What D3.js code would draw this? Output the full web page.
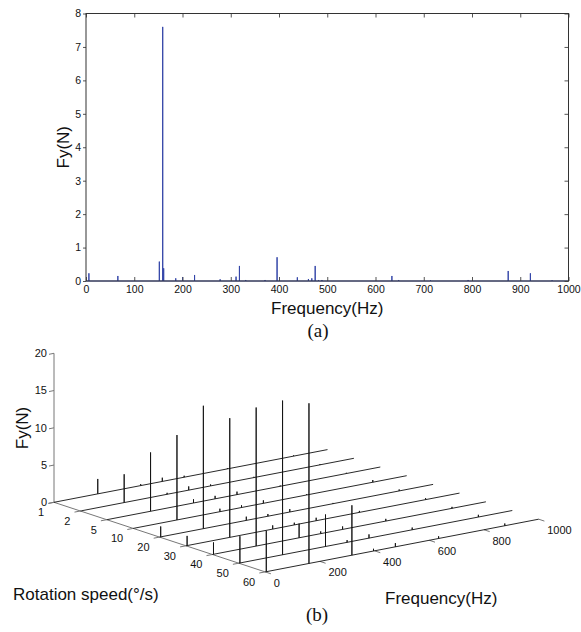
<!DOCTYPE html>
<html>
<head>
<meta charset="utf-8">
<script src="https://cdn.jsdelivr.net/npm/d3@7"></script>
<style>
  body { margin: 0; background: #fff; }
  svg { display: block; }
  text { font-family: "Liberation Sans", Arial, sans-serif; fill: #111; }
  text.cap { font-family: "Liberation Serif", "Times New Roman", serif; }
</style>
</head>
<body>
<div class="chart"></div>
<script>
// panel (a) spectrum, peaks
var specFreq = [6, 66, 152, 159, 161, 186, 200, 225, 278, 311, 318, 331, 371, 396, 438, 461, 468, 475, 482, 489, 634, 648, 714, 792, 875, 921, 966];
var specFy   = [0.23, 0.15, 0.58, 7.6, 0.38, 0.08, 0.12, 0.18, 0.05, 0.13, 0.45, 0.03, 0.03, 0.71, 0.11, 0.06, 0.08, 0.45, 0.03, 0.03, 0.15, 0.03, 0.02, 0.03, 0.30, 0.23, 0.02];
var freqTicksA = [0, 100, 200, 300, 400, 500, 600, 700, 800, 900, 1000];
var fyTicksA = [0, 1, 2, 3, 4, 5, 6, 7, 8];

// panel (b) waterfall: one row per rotation speed, one column per peak frequency
var speeds = ["1", "2", "5", "10", "20", "30", "40", "50", "60"];
var peakFreqs = [4, 160, 317, 396, 476, 634, 876];
var waterfallFy = [
  [0.0, 2.0, 0.2, 0.5, 0.2, 0.1, 0.1],
  [0.0, 3.8, 0.2, 0.5, 0.2, 0.1, 0.1],
  [0.0, 7.9, 0.5, 0.4, 0.4, 0.1, 0.1],
  [0.0, 11.4, 0.4, 0.3, 0.4, 0.1, 0.3],
  [1.4, 16.5, 0.5, 0.3, 0.4, 0.1, 0.2],
  [1.3, 16.0, 0.5, 0.3, 0.4, 0.2, 0.2],
  [1.6, 18.6, 1.9, 0.3, 0.4, 0.3, 0.2],
  [3.6, 20.7, 4.3, 0.3, 0.5, 0.3, 0.3],
  [5.5, 21.5, 6.7, 0.3, 0.5, 0.3, 0.3]
];
var freqTicksB = [0, 200, 400, 600, 800, 1000];
var fyTicksB = [0, 5, 10, 15, 20];

var width = 581;
var height = 632;
var fontSans = "'Liberation Sans', Arial, sans-serif";

const svg = d3.select(".chart")
              .append("svg")
              .attr("width", width)
              .attr("height", height);

// ---------- (a) ----------
var xA = d3.scaleLinear().domain([0, 1000]).range([86, 568.5]);
var yA = d3.scaleLinear().domain([0, 8]).range([281, 13.5]);

const gA = svg.append("g");

// spikes as one path along the baseline
var ptsA = [[0, 0]];
specFreq.forEach((f, i) => {
  ptsA.push([f, 0], [f, specFy[i]], [f, 0]);
});
ptsA.push([1000, 0]);

gA.append("path")
  .datum(ptsA)
  .attr("fill", "none")
  .attr("stroke", "#3345a8")
  .attr("stroke-width", 1)
  .attr("d", d3.line().x(d => xA(d[0])).y(d => yA(d[1])));

function styleAxis(g) {
  g.attr("font-family", fontSans);
  g.select(".domain").remove();
  g.selectAll("line").attr("stroke", "#555");
  g.selectAll("text").attr("font-size", 10.5).attr("fill", "#111");
}

gA.append("g")
  .attr("transform", "translate(0," + yA(0) + ")")
  .call(d3.axisBottom(xA).tickValues(freqTicksA).tickFormat(d3.format("d")).tickSizeInner(-4).tickSizeOuter(0).tickPadding(5))
  .call(styleAxis);
gA.append("g")
  .attr("transform", "translate(0," + yA(8) + ")")
  .call(d3.axisTop(xA).tickValues(freqTicksA).tickSizeInner(-4).tickSizeOuter(0).tickFormat(""))
  .call(styleAxis);
gA.append("g")
  .attr("transform", "translate(" + xA(0) + ",0)")
  .call(d3.axisLeft(yA).tickValues(fyTicksA).tickSizeInner(3).tickSizeOuter(0).tickPadding(2))
  .call(styleAxis);
gA.append("g")
  .attr("transform", "translate(" + xA(1000) + ",0)")
  .call(d3.axisRight(yA).tickValues(fyTicksA).tickSizeInner(-4).tickSizeOuter(0).tickFormat(""))
  .call(styleAxis);

gA.append("rect")
  .attr("x", xA(0)).attr("y", yA(8))
  .attr("width", xA(1000) - xA(0)).attr("height", yA(0) - yA(8))
  .attr("fill", "none").attr("stroke", "#333").attr("stroke-width", 1);

gA.append("text")
  .attr("x", (xA(0) + xA(1000)) / 2).attr("y", 314)
  .attr("text-anchor", "middle").attr("font-size", 17)
  .text("Frequency(Hz)");
gA.append("text")
  .attr("transform", "translate(69," + (yA(4)) + ") rotate(-90)")
  .attr("text-anchor", "middle").attr("font-size", 17)
  .text("Fy(N)");
gA.append("text")
  .attr("class", "cap")
  .attr("x", 318).attr("y", 336.5)
  .attr("text-anchor", "middle").attr("font-size", 19)
  .text("(a)");

// ---------- (b) ----------
var ox = 54, oy = 502.3;
var fX = d3.scaleLinear().domain([0, 1000]).range([0, 273.5]);
var fY = d3.scaleLinear().domain([0, 1000]).range([0, -52.7]);
var sX = d3.scalePoint().domain(speeds).range([0, 211.2]);
var sY = d3.scalePoint().domain(speeds).range([0, 69.6]);
var zY = d3.scaleLinear().domain([0, 20]).range([0, -149]);

function proj(f, s, z) {
  return [ox + fX(f) + sX(s), oy + fY(f) + sY(s) + zY(z)];
}

const gB = svg.append("g");

// axes lines
gB.append("line")
  .attr("x1", proj(0, "1", 0)[0]).attr("y1", proj(0, "1", 0)[1])
  .attr("x2", proj(0, "1", 20)[0]).attr("y2", proj(0, "1", 20)[1])
  .attr("stroke", "#777");
gB.append("line")
  .attr("x1", proj(0, "1", 0)[0]).attr("y1", proj(0, "1", 0)[1])
  .attr("x2", proj(0, "60", 0)[0]).attr("y2", proj(0, "60", 0)[1])
  .attr("stroke", "#777");

// z ticks
var zt = gB.append("g").selectAll("g")
  .data(fyTicksB)
  .enter()
  .append("g");
zt.append("line")
  .attr("x1", d => proj(0, "1", d)[0] - 5).attr("y1", d => proj(0, "1", d)[1] + 1)
  .attr("x2", d => proj(0, "1", d)[0]).attr("y2", d => proj(0, "1", d)[1])
  .attr("stroke", "#777");
zt.append("text")
  .attr("x", d => proj(0, "1", d)[0] - 7).attr("y", d => proj(0, "1", d)[1])
  .attr("dy", "0.35em").attr("text-anchor", "end").attr("font-size", 11)
  .text(d => d);

// rotation speed ticks (point back along -f)
var rt = gB.append("g").selectAll("g")
  .data(speeds)
  .enter()
  .append("g");
rt.append("line")
  .attr("x1", d => proj(0, d, 0)[0]).attr("y1", d => proj(0, d, 0)[1])
  .attr("x2", d => proj(0, d, 0)[0] - 5.9).attr("y2", d => proj(0, d, 0)[1] + 1.1)
  .attr("stroke", "#777");
rt.append("text")
  .attr("x", d => proj(0, d, 0)[0] - 10).attr("y", d => proj(0, d, 0)[1] + 10)
  .attr("dy", "0.35em").attr("text-anchor", "end").attr("font-size", 11)
  .text(d => d);

// frequency ticks on the front edge (point along +speed)
var ft = gB.append("g").selectAll("g")
  .data(freqTicksB)
  .enter()
  .append("g");
ft.append("line")
  .attr("x1", d => proj(d, "60", 0)[0]).attr("y1", d => proj(d, "60", 0)[1])
  .attr("x2", d => proj(d, "60", 0)[0] + 5.7).attr("y2", d => proj(d, "60", 0)[1] + 1.9)
  .attr("stroke", "#777");
ft.append("text")
  .attr("x", d => proj(d, "60", 0)[0] + 8.5).attr("y", d => proj(d, "60", 0)[1] + 11)
  .attr("dy", "0.35em").attr("text-anchor", "start").attr("font-size", 11)
  .text(d => d);

// slices, back to front
var lineB = d3.line().x(d => d[0]).y(d => d[1]);
speeds.forEach((s, i) => {
  var pts = [proj(0, s, 0)];
  peakFreqs.forEach((f, j) => {
    pts.push(proj(f, s, 0), proj(f, s, waterfallFy[i][j]), proj(f, s, 0));
  });
  pts.push(proj(1000, s, 0));
  gB.append("path")
    .datum(pts)
    .attr("fill", "none")
    .attr("stroke", "#111")
    .attr("stroke-width", 0.9)
    .attr("d", lineB);
});

gB.append("text")
  .attr("transform", "translate(28,428) rotate(-90)")
  .attr("text-anchor", "middle").attr("font-size", 17)
  .text("Fy(N)");
gB.append("text")
  .attr("x", 13).attr("y", 600)
  .attr("font-size", 17)
  .text("Rotation speed(°/s)");
gB.append("text")
  .attr("x", 385).attr("y", 604)
  .attr("font-size", 17)
  .text("Frequency(Hz)");
gB.append("text")
  .attr("class", "cap")
  .attr("x", 317).attr("y", 621)
  .attr("text-anchor", "middle").attr("font-size", 19)
  .text("(b)");
</script>
</body>
</html>
